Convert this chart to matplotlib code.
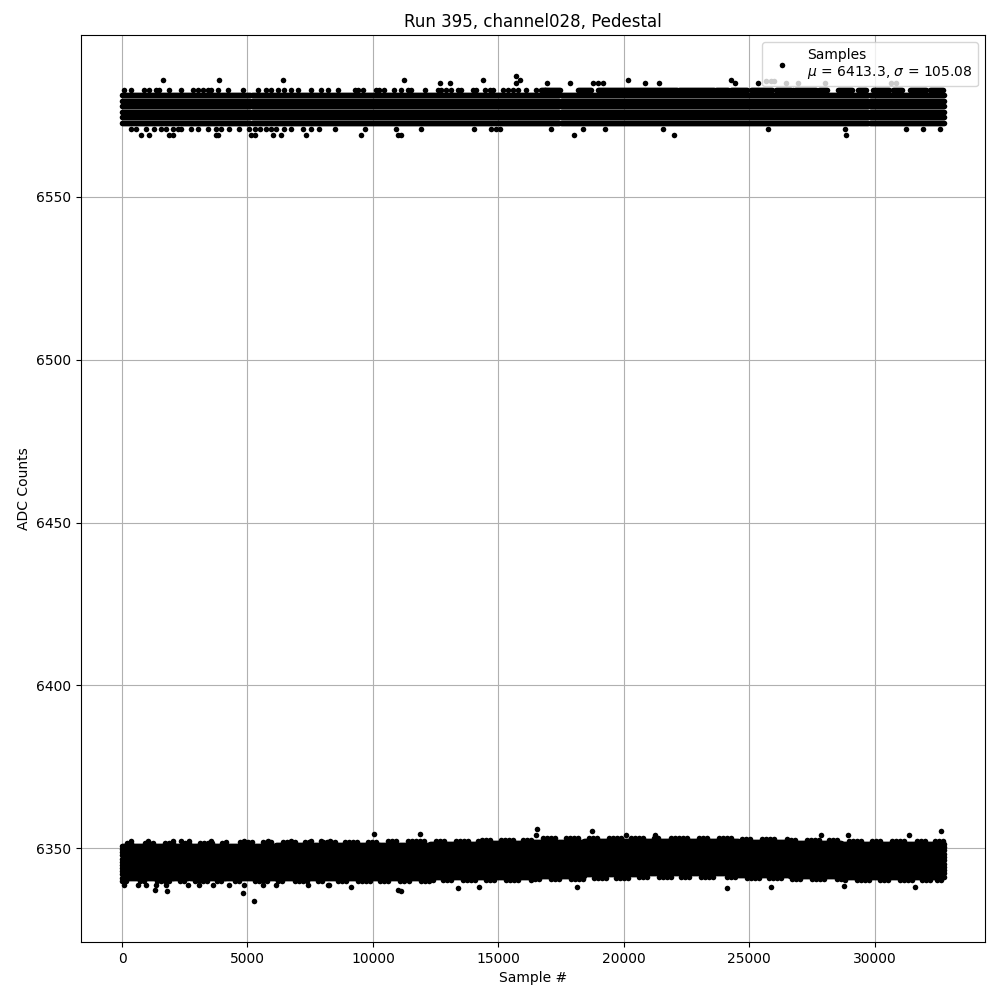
import numpy as np
import matplotlib
matplotlib.use("Agg")
import matplotlib.pyplot as plt

n_samples = 32768
stride = 40
fringe_stride = 160

# upper band: discrete ADC levels that are filled all along the run
upper_core_levels = [6572.7, 6574.4, 6576.1, 6577.8, 6579.5, 6581.2]
# top fringe row (6582.9): isolated samples in first half, filled ranges in second half
upper_top_level = 6582.9
upper_top_samples = [90, 360, 890, 1090, 1360, 1490, 1890, 2350, 2820, 3020, 3220, 3420,
                     3550, 3820, 4220, 4810, 5410, 5740, 5940, 6210, 6470, 6740, 7010,
                     7540, 7940, 8200, 8600, 9270, 9400, 9600, 10130, 10260, 10460, 10860,
                     11130, 11400, 11530, 12060, 12590, 12720, 12920, 13120, 13390, 13520,
                     13990, 14120, 14450, 14650, 14790, 15190, 15390, 15580, 15780, 16110,
                     16510, 16850]
upper_top_ranges = [(16700, 17500), (18180, 18710), (18970, 22170), (22220, 24160),
                    (24290, 24960), (25090, 25960), (26090, 26750), (26820, 27680),
                    (27800, 28150), (28550, 29150), (29350, 29680), (29940, 30610),
                    (30740, 31140), (31400, 32070), (32200, 32760)]
# lower fringe row (6570.9)
upper_low_level = 6570.9
upper_low_samples = [360, 560, 960, 1290, 1560, 1760, 2020, 2220, 2350, 2750, 3020, 3420,
                     3750, 3950, 4280, 4680, 5080, 5280, 5480, 5740, 5940, 6140, 6470,
                     6740, 7210, 7540, 7870, 8470, 9670, 10930, 11930, 14050, 14720,
                     14920, 15050, 17110, 18380, 19270, 21570, 25760, 28810, 31270,
                     31940, 32600]
# isolated outliers of the upper band
upper_out_x = [760, 1090, 1890, 2020, 3750, 3820, 5150, 5280, 6010, 6340, 7340, 9530,
               11000, 11130, 18000, 21990, 28850,
               1620, 3880, 6410, 11260, 12660, 13080, 14390, 15720, 15690, 15850, 16950,
               17840, 18770, 18970, 19170, 20170, 20860, 21390, 24290, 24420, 25360,
               25690, 25890, 26010, 26490, 26950, 28010, 30670, 30870]
upper_out_y = [6569.1] * 17 + [6586.0, 6586.0, 6586.0, 6586.0, 6584.9, 6584.9, 6586.0,
                               6587.0, 6584.9, 6586.0, 6584.9, 6584.9, 6584.9, 6584.9,
                               6584.9, 6586.0, 6584.9, 6584.9, 6586.0, 6584.9, 6584.9,
                               6585.5, 6585.5, 6585.5, 6584.9, 6584.9, 6584.9, 6584.9,
                               6584.9]

# lower band: filled core between lo and hi per segment of the run
lower_seg_edges = list(range(0, 32768, 2048)) + [32768]
lower_core_lo = [6341.0, 6341.0, 6341.0, 6341.0, 6341.0, 6341.0, 6341.2, 6341.3,
                 6341.5, 6342.0, 6342.3, 6342.3, 6341.8, 6341.6, 6341.3, 6341.3]
lower_core_hi = [6350.7, 6350.7, 6350.8, 6350.9, 6351.0, 6351.1, 6351.3, 6351.6,
                 6352.0, 6352.2, 6352.2, 6352.1, 6351.8, 6351.6, 6351.3, 6351.3]
# ragged edges of the lower band, one ADC count outside the core
lower_top_fringe = [(200, 500), (900, 1300), (1700, 2100), (2500, 2700), (3100, 3700),
                    (4000, 4300), (4700, 5200), (5600, 6000), (6400, 6900), (7300, 7600),
                    (8000, 8500), (8900, 9500), (9800, 10200), (10600, 11000),
                    (11400, 12100), (12500, 12900), (13300, 13900), (14200, 14700),
                    (15100, 15600), (16000, 16400), (16800, 17400), (17700, 18300),
                    (18600, 19000), (19400, 19900), (20300, 20800), (21200, 21500),
                    (21900, 22600), (23000, 23400), (23800, 24300), (24700, 25100),
                    (25500, 26100), (26500, 26900), (27300, 27800), (28200, 28600),
                    (29000, 29500), (29900, 30300), (30700, 31300), (31700, 32100),
                    (32400, 32760)]
lower_bot_fringe = [(0, 300), (700, 1000), (1400, 1900), (2300, 2600), (2900, 3400),
                    (3800, 4100), (4500, 4800), (5300, 5800), (6200, 6500), (6900, 7400),
                    (7800, 8100), (8600, 9000), (9400, 9900), (10300, 10700),
                    (11100, 11500), (11900, 12400), (12800, 13200), (13600, 14100),
                    (14500, 14900), (15300, 15900), (16300, 16700), (17100, 17500),
                    (17900, 18500), (18800, 19300), (19700, 20200), (20600, 21000),
                    (21400, 21900), (22300, 22700), (23100, 23700), (24100, 24500),
                    (24900, 25400), (25800, 26300), (26700, 27100), (27500, 28100),
                    (28500, 28900), (29300, 29800), (30200, 30600), (31000, 31500),
                    (31900, 32300), (32500, 32760)]
lower_out_x = [360, 1030, 2020, 2350, 2680, 3550, 4880, 5810, 6740, 7540, 7940, 8270,
               10050, 11890, 16550, 16510, 18750, 20100, 21260, 27880, 28960, 31390, 32670,
               90, 630, 960, 1360, 1760, 2620, 3080, 3620, 4280, 4880, 5610, 6140, 7410,
               8210, 4830, 5270, 1320, 1800, 11130, 11010, 9130, 13400, 18150, 24130,
               25890, 28800, 31600, 14230, 8240]
lower_out_y = [6352.3] * 12 + [6354.3, 6354.3, 6355.8, 6354.2, 6355.2, 6354.0, 6354.0,
                               6354.2, 6354.2, 6354.2, 6355.2] + \
              [6338.6] * 14 + [6336.2, 6333.9, 6337.2, 6336.8, 6336.8, 6337.3, 6338.0,
                               6337.8, 6338.0, 6337.8, 6338.1, 6338.3, 6338.0, 6338.0,
                               6338.6]

mu, sigma = 6413.3, 105.08

# build the point cloud
grid = np.arange(0, n_samples, stride)
xs, ys = [], []
for lev in upper_core_levels:
    xs.append(grid)
    ys.append(np.full(grid.size, lev))
xs.append(np.array(upper_top_samples))
ys.append(np.full(len(upper_top_samples), upper_top_level))
for a, b in upper_top_ranges:
    g = np.arange(a, b, stride)
    xs.append(g)
    ys.append(np.full(g.size, upper_top_level))
xs.append(np.array(upper_low_samples))
ys.append(np.full(len(upper_low_samples), upper_low_level))
xs.append(np.array(upper_out_x))
ys.append(np.array(upper_out_y))

edges = np.array(lower_seg_edges)
lo = np.array(lower_core_lo)
hi = np.array(lower_core_hi)
for i in range(len(lo)):
    g = np.arange(edges[i], edges[i + 1], stride)
    n_lev = int(np.ceil(hi[i] - lo[i])) + 1
    for lev in np.linspace(lo[i], hi[i], n_lev):
        xs.append(g)
        ys.append(np.full(g.size, lev))
for ranges, side in ((lower_top_fringe, 1.0), (lower_bot_fringe, -1.0)):
    for a, b in ranges:
        g = np.arange(a, b, fringe_stride)
        seg = np.searchsorted(edges, g, side='right') - 1
        base = hi[seg] if side > 0 else lo[seg]
        xs.append(g)
        ys.append(base + side)
xs.append(np.array(lower_out_x))
ys.append(np.array(lower_out_y))
x = np.concatenate(xs)
y = np.concatenate(ys)

fig = plt.figure(figsize=(10, 10), dpi=100)
ax = fig.add_subplot(111)
fig.subplots_adjust(left=0.081, right=0.985, top=0.965, bottom=0.058)
ax.plot(x, y, 'o', color='k', markersize=4, markeredgewidth=0, linestyle='none',
        label="Samples\n$\\mu$ = %.1f, $\\sigma$ = %.2f" % (mu, sigma))
ax.grid(True)
ax.set_xlim(-1638, 34405)
ax.set_ylim(6321.2, 6599.7)
ax.set_title("Run 395, channel028, Pedestal")
ax.set_xlabel("Sample #")
ax.set_ylabel("ADC Counts")
ax.legend(loc="upper right")
fig.savefig("out.png")
